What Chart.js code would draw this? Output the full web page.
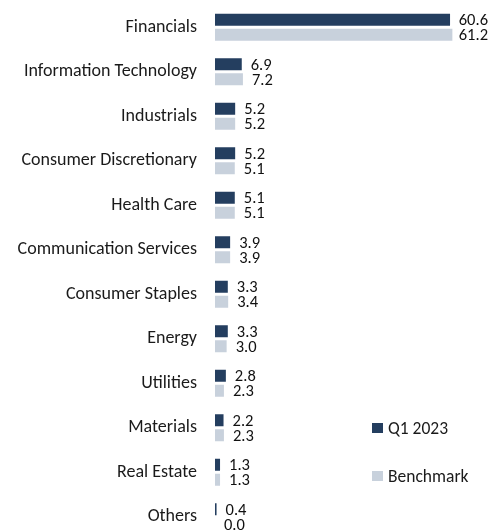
<!DOCTYPE html>
<html>
<head>
<meta charset="utf-8">
<script src="https://cdn.jsdelivr.net/npm/chart.js@4.4.0/dist/chart.umd.min.js"></script>
<style>
  html, body { margin: 0; padding: 0; background: #fff; overflow: hidden; width: 492px; height: 531px; }
  #wrap { position: absolute; left: 0; top: 0; width: 492px; height: 540px; }
  .leg { position: absolute; font-family: Carlito, Lato, "Open Sans", sans-serif; font-size: 17.5px; line-height: 20px; height: 20px; color: #1a1a1a; display: flex; align-items: center; }
  .leg span.box { display: inline-block; width: 11px; height: 10px; margin-right: 5px; }
</style>
</head>
<body>
<div id="wrap"><canvas id="c" width="492" height="540"></canvas></div>
<div id="legend"></div>
<script>
const categories = ["Financials", "Information Technology", "Industrials", "Consumer Discretionary", "Health Care", "Communication Services", "Consumer Staples", "Energy", "Utilities", "Materials", "Real Estate", "Others"];
const q1_2023 = [60.6, 6.9, 5.2, 5.2, 5.1, 3.9, 3.3, 3.3, 2.8, 2.2, 1.3, 0.4];
const benchmark = [61.2, 7.2, 5.2, 5.1, 5.1, 3.9, 3.4, 3.0, 2.3, 2.3, 1.3, 0.0];
const seriesNames = ["Q1 2023", "Benchmark"];
const colors = ["#243E5F", "#C8D1DC"];

const FONT = 'Carlito, Lato, "Open Sans", sans-serif';

const valueLabels = {
  id: 'valueLabels',
  afterDatasetsDraw(chart) {
    const ctx = chart.ctx;
    ctx.save();
    ctx.font = '16.5px ' + FONT;
    ctx.fillStyle = '#111';
    ctx.textAlign = 'left';
    ctx.textBaseline = 'middle';
    const maxRight = chart.width - 4;
    chart.data.datasets.forEach((ds, i) => {
      const meta = chart.getDatasetMeta(i);
      meta.data.forEach((el, j) => {
        const txt = ds.data[j].toFixed(1);
        const w = ctx.measureText(txt).width;
        const x = Math.min(el.x + 9, maxRight - w);
        ctx.fillText(txt, x, el.y + 1.5);
      });
    });
    ctx.restore();
  }
};

new Chart(document.getElementById('c'), {
  type: 'bar',
  data: {
    labels: categories,
    datasets: [
      { label: seriesNames[0], data: q1_2023, backgroundColor: colors[0], categoryPercentage: 0.673, barPercentage: 0.8 },
      { label: seriesNames[1], data: benchmark, backgroundColor: colors[1], categoryPercentage: 0.673, barPercentage: 0.8 }
    ]
  },
  options: {
    indexAxis: 'y',
    responsive: false,
    animation: false,
    devicePixelRatio: 1,
    layout: { padding: { top: 5, bottom: 1, right: 5.5, left: 0 } },
    plugins: { legend: { display: false }, tooltip: { enabled: false } },
    scales: {
      x: { display: false, min: 0, max: 70 },
      y: {
        grid: { display: false },
        border: { display: false },
        ticks: { font: { family: FONT, size: 18 }, color: '#1a1a1a', padding: 10, autoSkip: false },
        afterFit(scale) { scale.width = 215; scale.paddingTop = 0; scale.paddingBottom = 0; }
      }
    }
  },
  plugins: [valueLabels]
});

const legend = document.getElementById('legend');
const legendTops = [418, 466];
seriesNames.forEach((name, i) => {
  const d = document.createElement('div');
  d.className = 'leg';
  d.style.left = '372px';
  d.style.top = legendTops[i] + 'px';
  d.innerHTML = '<span class="box" style="background:' + colors[i] + '"></span>' + name;
  legend.appendChild(d);
});
</script>
</body>
</html>
